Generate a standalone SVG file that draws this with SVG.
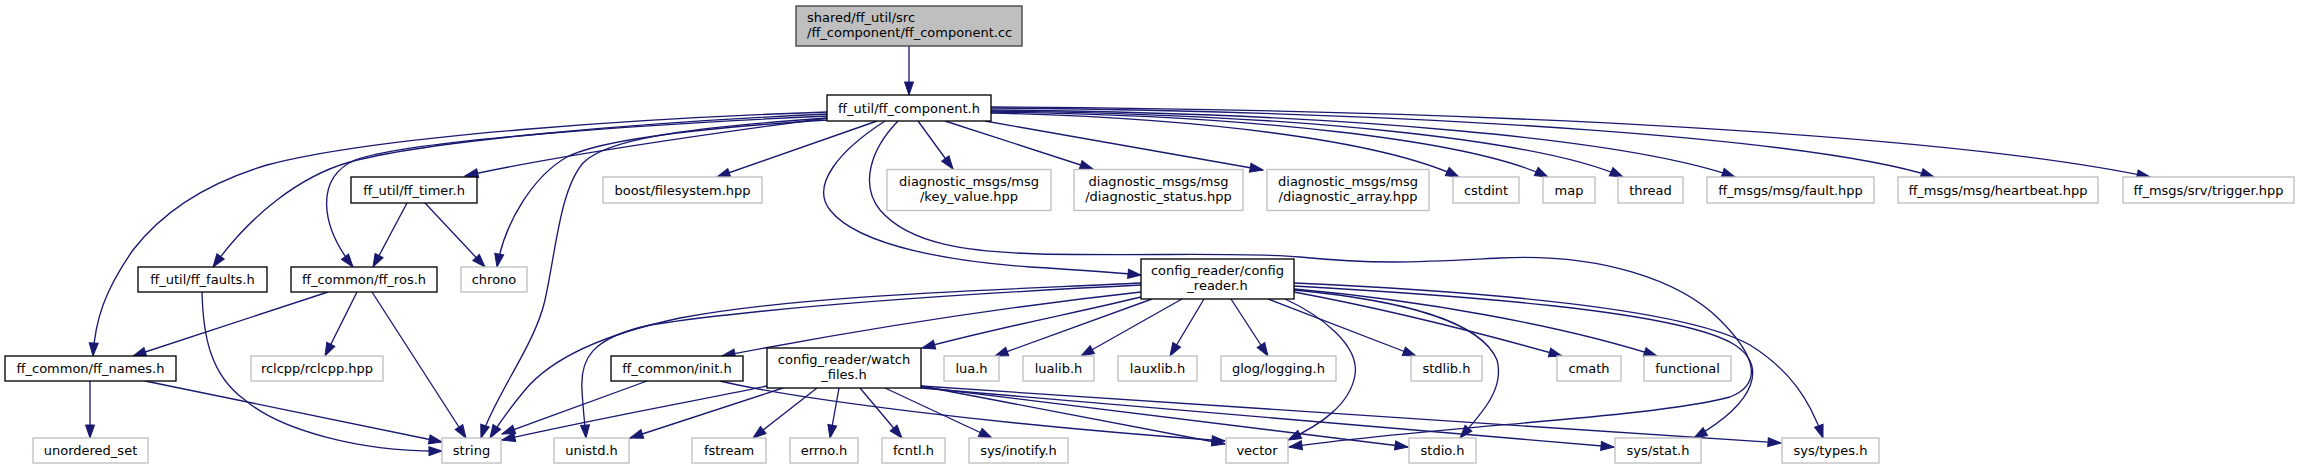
<svg xmlns="http://www.w3.org/2000/svg" width="2299" height="469" viewBox="0 0 2299 469">
<style>
text{font-family:"DejaVu Sans","Noto Sans",sans-serif;font-size:13px;fill:#000;text-anchor:middle}
.doc rect{fill:#fff;stroke:#000;stroke-width:1.33}
.ext rect{fill:#fff;stroke:#bfbfbf;stroke-width:1.33}
.root rect{fill:#bfbfbf;stroke:#404040;stroke-width:1.33}
.root text{text-anchor:start}
#edges path{fill:none;stroke:#191970;stroke-width:1.33;marker-end:url(#arr)}
</style>
<defs>
<marker id="arr" markerUnits="userSpaceOnUse" markerWidth="14" markerHeight="10" viewBox="0 0 14 10" refX="13" refY="4.5" orient="auto" overflow="visible">
<path d="M0,0 L13,4.5 L0,9 z" fill="#191970" stroke="#191970" stroke-width="1"/>
</marker>
</defs>
<rect width="2299" height="469" fill="#fff"/>
<g id="edges">
<path d="M909,46 L909,95"/>
<path d="M828,112 C650,118 380,135 267,165 C200,185 160,215 133,250 C105,290 95,320 93,356"/>
<path d="M828,114 C650,122 430,140 350,162 C300,176 250,215 213,267"/>
<path d="M828,116 C650,124 410,140 355,160 C315,178 320,225 353,267"/>
<path d="M828,118 C700,135 560,155 465,176"/>
<path d="M828,120 C700,128 600,140 567,157 C535,175 505,220 497,267"/>
<path d="M828,118 C680,128 605,140 583,163 C560,190 556,250 545,300 C535,345 495,395 481,438"/>
<path d="M877,121 L717,177"/>
<path d="M918,121 L953,169"/>
<path d="M945,121 L1093,169"/>
<path d="M985,121 L1263,170"/>
<path d="M991,113 C1200,118 1380,140 1459,177"/>
<path d="M991,112 C1250,115 1470,140 1548,177"/>
<path d="M991,111 C1300,114 1540,140 1623,177"/>
<path d="M991,110 C1350,113 1630,140 1735,177"/>
<path d="M991,108 C1450,112 1820,140 1934,177"/>
<path d="M991,107 C1500,110 1950,135 2150,177"/>
<path d="M885,121 C840,150 810,185 830,210 C860,248 960,262 1030,267 C1080,270 1110,272 1141,275"/>
<path d="M898,121 C870,150 860,185 880,210 C910,245 970,252 1040,254 C1150,256 1250,252 1300,257 C1380,265 1420,262 1500,258 C1600,253 1680,280 1720,320 C1760,360 1760,385 1730,397 C1650,418 1450,425 1289,447"/>
<path d="M407,203 L373,267"/>
<path d="M425,203 L485,267"/>
<path d="M328,292 L133,356"/>
<path d="M357,292 L325,356"/>
<path d="M372,292 L466,438"/>
<path d="M202,292 C203,335 210,375 245,400 C280,430 360,452 442,451"/>
<path d="M90,381 L90,438"/>
<path d="M145,381 L442,442"/>
<path d="M1141,283 C1000,290 800,295 680,318 C600,335 550,360 525,390 C510,408 498,425 490,438"/>
<path d="M1141,285 C1000,292 780,305 650,325 C590,338 580,360 582,390 C583,410 585,425 586,438"/>
<path d="M1141,292 C1050,302 900,322 722,356"/>
<path d="M1141,297 C1080,312 1000,327 922,348"/>
<path d="M1152,299 L995,356"/>
<path d="M1182,299 L1081,356"/>
<path d="M1204,299 L1170,356"/>
<path d="M1231,299 L1268,356"/>
<path d="M1268,299 L1416,356"/>
<path d="M1294,292 C1380,308 1470,330 1562,356"/>
<path d="M1294,289 C1420,300 1560,325 1657,356"/>
<path d="M1294,283 C1450,290 1680,305 1750,345 C1790,370 1810,400 1823,438"/>
<path d="M1294,286 C1450,295 1680,310 1735,345 C1765,365 1760,400 1694,438"/>
<path d="M1294,290 C1400,300 1480,320 1497,360 C1505,390 1480,415 1460,438"/>
<path d="M1285,299 C1320,315 1360,345 1355,375 C1350,405 1320,425 1288,440"/>
<path d="M767,386 C700,400 600,418 502,440"/>
<path d="M783,388 L630,438"/>
<path d="M817,388 L753,438"/>
<path d="M839,388 L830,438"/>
<path d="M860,388 L902,438"/>
<path d="M885,388 L992,438"/>
<path d="M921,386 L1225,444"/>
<path d="M921,387 L1408,447"/>
<path d="M921,388 L1614,447"/>
<path d="M921,386 L1781,443"/>
<path d="M647,381 L502,434"/>
<path d="M720,381 C800,400 1000,425 1225,441"/>
</g>
<g id="n0" class="root"><rect x="796" y="6" width="226" height="40"/><text x="807" y="22">shared/ff_util/src</text><text x="807" y="37">/ff_component/ff_component.cc</text></g>
<g id="n1" class="doc"><rect x="827" y="95" width="164" height="26"/><text x="909" y="112.5">ff_util/ff_component.h</text></g>
<g id="n2" class="doc"><rect x="351" y="177" width="126" height="26"/><text x="414" y="194.5">ff_util/ff_timer.h</text></g>
<g id="n3" class="ext"><rect x="603" y="177" width="159" height="26"/><text x="682.5" y="194.5">boost/filesystem.hpp</text></g>
<g id="n4" class="ext"><rect x="887" y="169.5" width="164" height="41"/><text x="969" y="186">diagnostic_msgs/msg</text><text x="969" y="201">/key_value.hpp</text></g>
<g id="n5" class="ext"><rect x="1074" y="169.5" width="169" height="41"/><text x="1158.5" y="186">diagnostic_msgs/msg</text><text x="1158.5" y="201">/diagnostic_status.hpp</text></g>
<g id="n6" class="ext"><rect x="1267" y="169.5" width="162" height="41"/><text x="1348" y="186">diagnostic_msgs/msg</text><text x="1348" y="201">/diagnostic_array.hpp</text></g>
<g id="n7" class="ext"><rect x="1453" y="177" width="66" height="26"/><text x="1486" y="194.5">cstdint</text></g>
<g id="n8" class="ext"><rect x="1543" y="177" width="52" height="26"/><text x="1569" y="194.5">map</text></g>
<g id="n9" class="ext"><rect x="1618" y="177" width="65" height="26"/><text x="1650.5" y="194.5">thread</text></g>
<g id="n10" class="ext"><rect x="1707" y="177" width="167" height="26"/><text x="1790.5" y="194.5">ff_msgs/msg/fault.hpp</text></g>
<g id="n11" class="ext"><rect x="1898" y="177" width="200" height="26"/><text x="1998" y="194.5">ff_msgs/msg/heartbeat.hpp</text></g>
<g id="n12" class="ext"><rect x="2123" y="177" width="171" height="26"/><text x="2208.5" y="194.5">ff_msgs/srv/trigger.hpp</text></g>
<g id="n13" class="doc"><rect x="138" y="267" width="129" height="25"/><text x="202.5" y="284">ff_util/ff_faults.h</text></g>
<g id="n14" class="doc"><rect x="291" y="267" width="146" height="25"/><text x="364" y="284">ff_common/ff_ros.h</text></g>
<g id="n15" class="ext"><rect x="461" y="267" width="66" height="25"/><text x="494" y="284">chrono</text></g>
<g id="n16" class="doc"><rect x="1141" y="259" width="153" height="40"/><text x="1217.5" y="275">config_reader/config</text><text x="1217.5" y="290">_reader.h</text></g>
<g id="n17" class="doc"><rect x="5" y="356" width="171" height="25"/><text x="90.5" y="373">ff_common/ff_names.h</text></g>
<g id="n18" class="ext"><rect x="251" y="356" width="132" height="25"/><text x="317" y="373">rclcpp/rclcpp.hpp</text></g>
<g id="n19" class="doc"><rect x="611" y="356" width="132" height="25"/><text x="677" y="373">ff_common/init.h</text></g>
<g id="n20" class="doc"><rect x="767" y="348" width="154" height="40"/><text x="844" y="364">config_reader/watch</text><text x="844" y="379">_files.h</text></g>
<g id="n21" class="ext"><rect x="944" y="356" width="55" height="25"/><text x="971.5" y="373">lua.h</text></g>
<g id="n22" class="ext"><rect x="1023" y="356" width="71" height="25"/><text x="1058.5" y="373">lualib.h</text></g>
<g id="n23" class="ext"><rect x="1118" y="356" width="79" height="25"/><text x="1157.5" y="373">lauxlib.h</text></g>
<g id="n24" class="ext"><rect x="1221" y="356" width="115" height="25"/><text x="1278.5" y="373">glog/logging.h</text></g>
<g id="n25" class="ext"><rect x="1411" y="356" width="71" height="25"/><text x="1446.5" y="373">stdlib.h</text></g>
<g id="n26" class="ext"><rect x="1557" y="356" width="64" height="25"/><text x="1589" y="373">cmath</text></g>
<g id="n27" class="ext"><rect x="1644" y="356" width="87" height="25"/><text x="1687.5" y="373">functional</text></g>
<g id="n28" class="ext"><rect x="33" y="438" width="115" height="25"/><text x="90.5" y="455">unordered_set</text></g>
<g id="n29" class="ext"><rect x="442" y="438" width="59" height="25"/><text x="471.5" y="455">string</text></g>
<g id="n30" class="ext"><rect x="554" y="438" width="75" height="25"/><text x="591.5" y="455">unistd.h</text></g>
<g id="n31" class="ext"><rect x="692" y="438" width="74" height="25"/><text x="729" y="455">fstream</text></g>
<g id="n32" class="ext"><rect x="790" y="438" width="68" height="25"/><text x="824" y="455">errno.h</text></g>
<g id="n33" class="ext"><rect x="882" y="438" width="63" height="25"/><text x="913.5" y="455">fcntl.h</text></g>
<g id="n34" class="ext"><rect x="969" y="438" width="99" height="25"/><text x="1018.5" y="455">sys/inotify.h</text></g>
<g id="n35" class="ext"><rect x="1226" y="438" width="62" height="25"/><text x="1257" y="455">vector</text></g>
<g id="n36" class="ext"><rect x="1409" y="438" width="67" height="25"/><text x="1442.5" y="455">stdio.h</text></g>
<g id="n37" class="ext"><rect x="1615" y="438" width="86" height="25"/><text x="1658" y="455">sys/stat.h</text></g>
<g id="n38" class="ext"><rect x="1782" y="438" width="97" height="25"/><text x="1830.5" y="455">sys/types.h</text></g>
</svg>
